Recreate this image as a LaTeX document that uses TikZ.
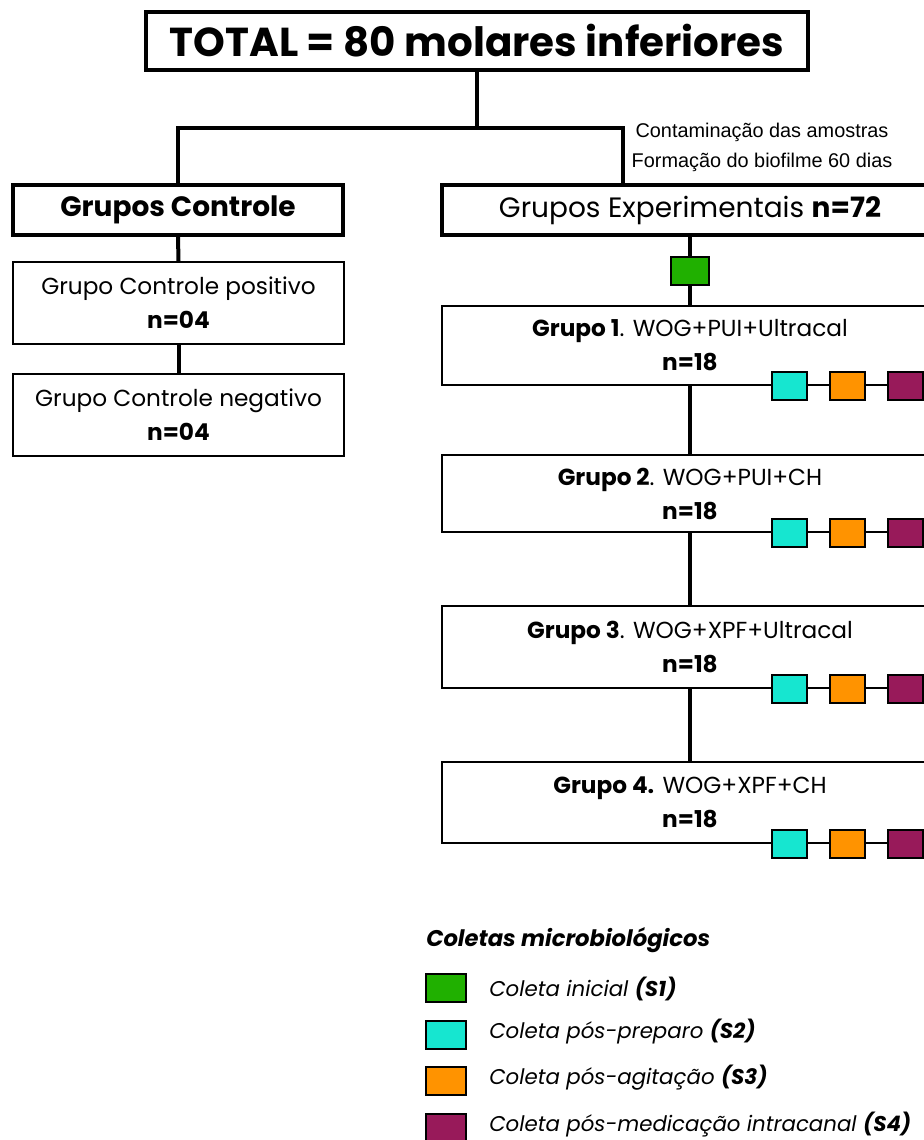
\documentclass[tikz,border=0pt]{standalone}
\usepackage{fontspec}
\setmainfont{Poppins}
\newfontfamily\helv{Liberation Sans}

\definecolor{cS1}{HTML}{20B000}
\definecolor{cS2}{HTML}{16E6D0}
\definecolor{cS3}{HTML}{FF9300}
\definecolor{cS4}{HTML}{981A5A}

\tikzset{
  thickbox/.style={draw, line width=3pt, minimum height=37.5pt, inner sep=0pt},
  grpbox/.style={draw, line width=1.5pt, align=center, inner sep=0pt, font=\fontsize{17.4}{25.5}\selectfont},
  conn/.style={line width=3pt},
  coleta/.style={draw, line width=1.5pt, minimum width=26.25pt, minimum height=21pt, inner sep=0pt},
  legtext/.style={anchor=west, inner sep=0pt, font=\fontsize{16}{20}\selectfont\itshape}
}

\begin{document}
\begin{tikzpicture}[x=0.75pt,y=0.75pt,yscale=-1]
\useasboundingbox (0,0) rectangle (924,1140);
\clip (0,0) rectangle (924,1140);

% Top box
\node [thickbox, minimum width=496.5pt, minimum height=43.5pt, font=\fontsize{30.3}{36}\selectfont\bfseries] (total) at (477,41) {TOTAL = 80 molares inferiores};

% Control / experimental boxes
\node [thickbox, minimum width=247.5pt, font=\fontsize{21}{24}\selectfont\bfseries] (ctrl) at (178,210) {Grupos Controle};
\node [thickbox, minimum width=372pt, font=\fontsize{21}{24}\selectfont] (exp) at (690,210) {Grupos Experimentais \textbf{n=72}};

\coordinate (split) at (477,128);
\coordinate (expin) at (623,185);
\draw [conn] (total.south) -- (split);
\draw [conn] (ctrl.north) |- (split) -| (expin);

% Text Node
\node [font=\helv\fontsize{14.9}{22.5}\selectfont, align=center] (contam) at (762,147) {Contaminação das amostras\\Formação do biofilme 60 dias};

% Control groups
\node [grpbox, minimum width=248.25pt, minimum height=61.5pt] (cpos) at (178.5,303) {Grupo Controle positivo\\\textbf{n=04}};
\node [grpbox, minimum width=248.25pt, minimum height=61.5pt] (cneg) at (178.5,415) {Grupo Controle negativo\\\textbf{n=04}};
\draw [conn] (ctrl.south) -- (cpos.north);
\draw [conn] (cpos.south) -- (cneg.north);

% Experimental groups
\node [grpbox, minimum width=372pt, minimum height=59.25pt] (g1) at (690,345.5) {\textbf{Grupo 1}. WOG+PUI+Ultracal\\\textbf{n=18}};
\node [grpbox, minimum width=372pt, minimum height=57.75pt] (g2) at (690,493.5) {\textbf{Grupo 2}. WOG+PUI+CH\\\textbf{n=18}};
\node [grpbox, minimum width=372pt, minimum height=61.5pt] (g3) at (690,647) {\textbf{Grupo 3}. WOG+XPF+Ultracal\\\textbf{n=18}};
\node [grpbox, minimum width=372pt, minimum height=60.75pt] (g4) at (690,802.5) {\textbf{Grupo 4.} WOG+XPF+CH\\\textbf{n=18}};

\node [coleta, fill=cS1, minimum width=28.5pt] (s1) at (690,271) {};
\draw [conn] (exp.south) -- (s1.north);
\draw [conn] (s1.south) -- (g1.north);
\draw [conn] (g1.south) -- (g2.north);
\draw [conn] (g2.south) -- (g3.north);
\draw [conn] (g3.south) -- (g4.north);

% Coletas on each group
\foreach \g in {g1,g2,g3,g4}{
  \node [coleta, fill=cS2] (\g s2) at ([xshift=74.25pt]\g.south) {};
  \node [coleta, fill=cS3] (\g s3) at ([xshift=117.75pt]\g.south) {};
  \node [coleta, fill=cS4] (\g s4) at ([xshift=161.25pt]\g.south) {};
}

% Legend
\node [anchor=west, inner sep=0pt, font=\fontsize{17}{20}\selectfont\bfseries\itshape] (legtitle) at (426,940) {Coletas microbiológicos};
\node [coleta, fill=cS1, minimum width=30pt] (k1) at (446,988) {};
\node [coleta, fill=cS2, minimum width=30pt] (k2) at (446,1035) {};
\node [coleta, fill=cS3, minimum width=30pt] (k3) at (446,1081) {};
\node [coleta, fill=cS4, minimum width=30pt] (k4) at (446,1128) {};
\node [legtext] (l1) at (489,989) {Coleta inicial \textbf{(S1)}};
\node [legtext] (l2) at (489,1032) {Coleta pós-preparo \textbf{(S2)}};
\node [legtext] (l3) at (489,1078) {Coleta pós-agitação \textbf{(S3)}};
\node [legtext] (l4) at (489,1125) {Coleta pós-medicação intracanal \textbf{(S4)}};

\end{tikzpicture}
\end{document}
